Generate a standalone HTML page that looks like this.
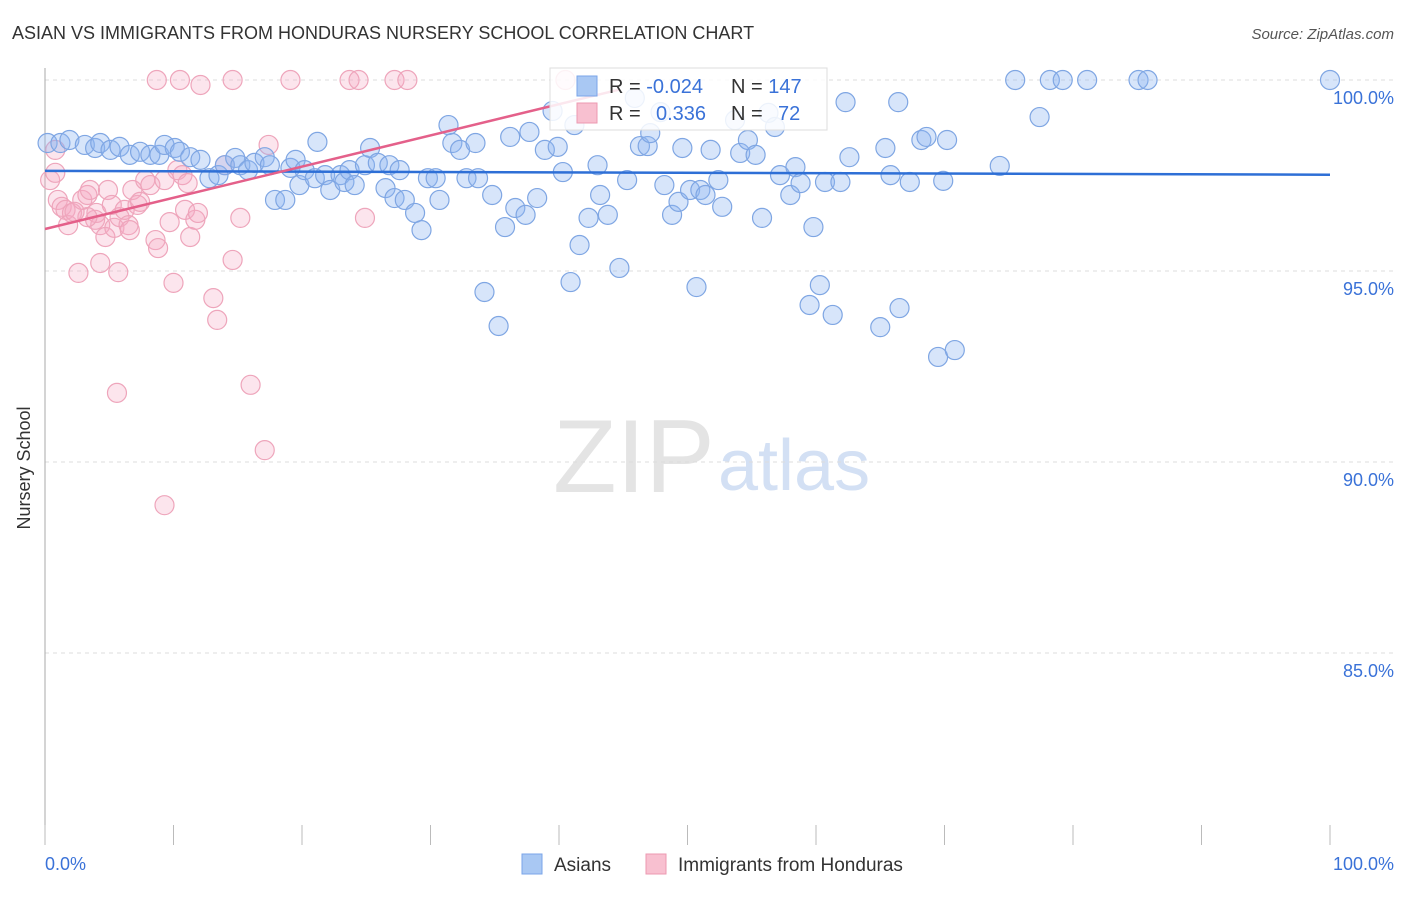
<!DOCTYPE html>
<html><head><meta charset="utf-8"><style>
body{margin:0;background:#fff;font-family:"Liberation Sans",sans-serif}
svg text{font-family:"Liberation Sans",sans-serif}
</style></head><body>
<svg id="chart" width="1406" height="892" xmlns="http://www.w3.org/2000/svg">
<text x="12" y="39" font-size="18" fill="#333">ASIAN VS IMMIGRANTS FROM HONDURAS NURSERY SCHOOL CORRELATION CHART</text>
<text x="1394" y="39" font-size="15" fill="#555" font-style="italic" text-anchor="end">Source: ZipAtlas.com</text>
<g>
<text x="553" y="492" font-size="104" font-family="Liberation Serif" fill="#e4e4e4">ZIP</text>
<text x="718" y="490" font-size="72" fill="#d3e0f4">atlas</text>
</g>
<g id="grid"></g>
<line x1="45" y1="68" x2="45" y2="845" stroke="#aaa"/>
<g id="xticks"></g>
<text x="18" y="456" font-size="18" fill="#333" transform="rotate(-90 30 456)" text-anchor="middle">Nursery School</text>
<text x="45" y="870" font-size="18" fill="#3a72d8">0.0%</text>
<text x="1394" y="870" font-size="18" fill="#3a72d8" text-anchor="end">100.0%</text>
<g id="pts"></g>
<g id="lines"></g>
<g>
<rect x="550" y="68" width="277" height="62" fill="#fff" fill-opacity="0.85" stroke="#ddd"/>
<rect x="577" y="76" width="20" height="20" fill="#a9c8f3" stroke="#7aa5e8"/>
<rect x="577" y="103" width="20" height="20" fill="#f8c0d0" stroke="#ec99b1"/>
<text x="609" y="93" font-size="20" fill="#333">R = <tspan fill="#3a72d8">-0.024</tspan></text>
<text x="731" y="93" font-size="20" fill="#333">N = <tspan fill="#3a72d8">147</tspan></text>
<text x="609" y="120" font-size="20" fill="#333">R = <tspan fill="#3a72d8" x="656">0.336</tspan></text>
<text x="731" y="120" font-size="20" fill="#333">N = <tspan fill="#3a72d8" x="778">72</tspan></text>
</g>
<g>
<rect x="522" y="854" width="20" height="20" fill="#a9c8f3" stroke="#7aa5e8"/>
<text x="554" y="871" font-size="19" fill="#333">Asians</text>
<rect x="646" y="854" width="20" height="20" fill="#f8c0d0" stroke="#ec99b1"/>
<text x="678" y="871" font-size="19" fill="#333">Immigrants from Honduras</text>
</g>
</svg>
<script>
const yTicks=[100,95,90,85];
const xTickVals=[0,10,20,30,40,50,60,70,80,90,100];
const asianX=[0.2,1.2,1.9,3.1,3.9,4.3,5.1,5.8,6.6,7.4,8.2,8.9,9.3,10.1,10.5,11.3,12.1,12.8,13.5,14.0,14.8,15.2,15.8,16.3,17.1,17.5,17.9,18.7,19.1,19.5,19.8,20.2,21.0,21.2,21.8,22.2,23.0,23.3,23.7,24.1,24.9,25.3,25.9,26.5,26.8,27.2,27.6,28.0,28.8,29.3,29.8,30.4,30.7,31.4,31.7,32.3,32.8,33.5,33.7,34.2,34.8,35.3,35.8,36.2,36.6,37.4,37.7,38.3,38.9,39.5,39.9,40.3,40.9,41.2,41.6,42.3,43.0,43.2,43.8,44.7,45.3,45.9,46.3,46.9,47.1,47.9,48.2,48.8,49.3,49.6,50.2,50.7,51.0,51.4,51.8,52.4,52.7,53.7,54.1,54.7,55.3,55.8,56.3,56.8,57.2,58.0,58.4,58.8,59.5,59.8,60.3,60.7,61.3,61.9,62.3,62.6,65.0,65.4,65.8,66.4,66.5,67.3,68.2,68.6,69.5,69.9,70.2,70.8,74.3,75.5,77.4,78.2,79.2,81.1,85.1,85.8,100];
const asianY=[98.35,98.35,98.43,98.30,98.22,98.35,98.17,98.25,98.04,98.12,98.04,98.04,98.30,98.22,98.12,97.98,97.91,97.43,97.51,97.77,97.96,97.77,97.64,97.83,97.98,97.77,96.86,96.86,97.70,97.91,97.25,97.64,97.43,98.38,97.51,97.12,97.51,97.33,97.64,97.25,97.77,98.22,97.83,97.17,97.77,96.91,97.64,96.86,96.52,96.07,97.43,97.43,96.86,98.82,98.35,98.17,97.43,98.35,97.43,94.45,96.99,93.56,96.15,98.51,96.65,96.47,98.64,96.91,98.17,99.19,98.25,97.59,94.71,98.82,95.68,96.39,97.77,96.99,96.47,95.08,97.38,99.53,98.27,98.27,98.61,99.16,97.25,96.47,96.81,98.22,97.12,94.58,97.12,96.99,98.17,97.38,96.68,98.95,98.09,98.43,98.04,96.39,99.14,98.77,97.51,96.99,97.72,97.30,94.11,96.15,94.63,97.33,93.85,97.33,99.42,97.98,93.53,98.22,97.51,99.42,94.03,97.33,98.43,98.51,92.75,97.36,98.43,92.93,97.75,100,99.03,100,100,100,100,100,100];
const hondX=[0.8,0.4,0.8,1.0,1.3,1.6,1.8,2.1,2.6,2.9,3.3,3.5,3.9,4.0,4.3,4.3,4.7,4.9,5.2,5.4,5.7,5.8,6.2,6.5,6.6,6.8,7.2,7.4,7.8,8.2,8.6,8.8,8.7,9.3,9.7,10.0,10.3,10.5,10.7,10.9,11.1,11.3,11.7,11.9,12.1,13.1,13.4,14.0,14.6,14.6,15.2,16.0,17.1,17.4,19.1,23.7,24.4,24.9,27.2,28.2,40.5,9.3,5.6,3.3,2.3];
const hondY=[98.17,97.38,97.57,96.86,96.68,96.60,96.20,96.52,94.95,96.86,96.99,97.12,96.34,96.52,96.20,95.21,95.89,97.12,96.73,96.13,94.97,96.41,96.60,96.20,96.07,97.12,96.73,96.81,97.38,97.25,95.81,95.60,100,97.38,96.28,94.69,97.64,100,97.51,96.60,97.30,95.89,96.34,96.52,99.87,94.29,93.72,97.77,95.29,100,96.39,92.02,90.31,98.30,100,100,100,96.39,100,100,100,88.87,91.81,96.41,96.55];
const asianLine=[97.62,97.52];
const hondLine=[96.1,99.75];
const hondLineEnd=44.7;
const NS='http://www.w3.org/2000/svg';
const X=v=>45+v*12.85, Y=v=>80+(100-v)*38.2;
function mk(t,a,p){const e=document.createElementNS(NS,t);for(const k in a)e.setAttribute(k,a[k]);p.appendChild(e);return e;}
const grid=document.getElementById('grid');
yTicks.forEach(t=>{
 const l=mk('line',{x1:45,x2:1394,y1:Y(t),y2:Y(t),stroke:'#ddd','stroke-dasharray':'4 4'},grid);
 
 
 const tx=mk('text',{x:1394,y:Y(t)+24,'font-size':18,fill:'#3a72d8','text-anchor':'end'},grid);
 tx.textContent=t.toFixed(1)+'%';
 
 
});
const xt=document.getElementById('xticks');
xTickVals.forEach(v=>{
 const l=mk('line',{x1:X(v),x2:X(v),y1:825,y2:845,stroke:'#bbb'},xt);
 
 
});
const pts=document.getElementById('pts');
hondX.forEach((x,i)=>{
 const c=mk('circle',{cx:X(x),cy:Y(hondY[i]),r:9.5,fill:'rgba(246,170,195,0.3)',stroke:'#eea5bb','stroke-width':1.2},pts);
 
 
});
asianX.forEach((x,i)=>{
 const c=mk('circle',{cx:X(x),cy:Y(asianY[i]),r:9.5,fill:'rgba(140,180,240,0.35)',stroke:'#7fa6e3','stroke-width':1.2},pts);
 
 
});
const lines=document.getElementById('lines');
const bl=mk('line',{x1:X(0),y1:Y(asianLine[0]),x2:X(100),y2:Y(asianLine[1]),stroke:'#2e6fd6','stroke-width':2.5},lines);


const pl=mk('line',{x1:X(0),y1:Y(hondLine[0]),x2:X(hondLineEnd),y2:Y(hondLine[1]),stroke:'#e4608a','stroke-width':2.5},lines);


</script>
</body></html>
